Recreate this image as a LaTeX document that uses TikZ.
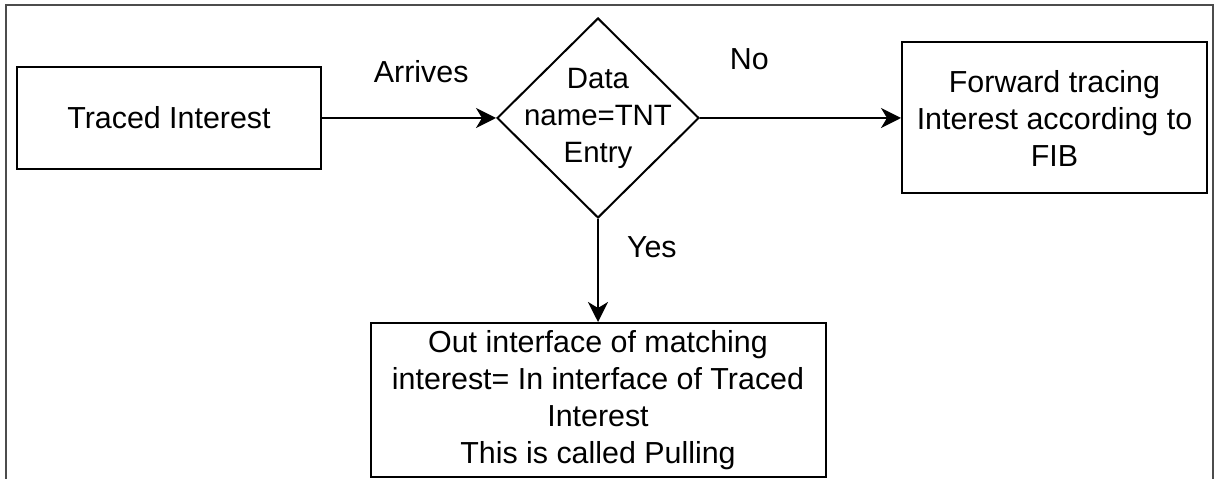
\documentclass[tikz,border=0pt]{standalone}
\usepackage{fontspec}
\setmainfont{Liberation Sans}
\usetikzlibrary{arrows.meta,positioning,shapes.geometric}

\begin{document}
\begin{tikzpicture}[
    x=1pt, y=1pt,
    >={Stealth[length=20pt, width=20pt, inset=6pt]},
    line width=2pt,
    every node/.style={font=\fontsize{30.4}{37}\selectfont},
    block/.style={draw, align=center, inner sep=0pt},
    decision/.style={draw, diamond, inner sep=0pt, minimum width=202pt, minimum height=200pt},
    every edge/.style={draw, ->},
    label font/.style={inner sep=0pt},
]
\useasboundingbox (0,0) rectangle (1216,479);

% Frame
\draw[black!70] (6,0) -- (6,474) -- (1213,474) -- (1213,0);

% Traced interest
\node[block, minimum width=304pt, minimum height=102pt] (traced) at (169,361) {Traced Interest};

% Decision
\node[decision, right=174pt of traced, label={[align=center, inner sep=0pt, font=\fontsize{29.4}{37}\selectfont]center:Data\\name=TNT\\Entry}] (check) {};

% Forward tracing
\node[block, minimum width=305pt, minimum height=151pt, right=201pt of check] (forward) {Forward tracing\\Interest according to\\FIB};

% Pulling
\node[block, minimum width=455pt, minimum height=154pt, below=103pt of check] (pulling) {Out interface of matching\\interest= In interface of Traced\\Interest\\This is called Pulling};

% Edges
\draw[->] (traced) -- node[label font, pos=0.57, above=34pt] (arrives) {Arrives} (check);
\draw[->] (check) -- node[label font, pos=0.245, above=47pt] (no) {No} (forward);
\draw[->] (check) -- node[label font, pos=0.27, right=28pt] (yes) {Yes} (pulling);

\end{tikzpicture}
\end{document}
